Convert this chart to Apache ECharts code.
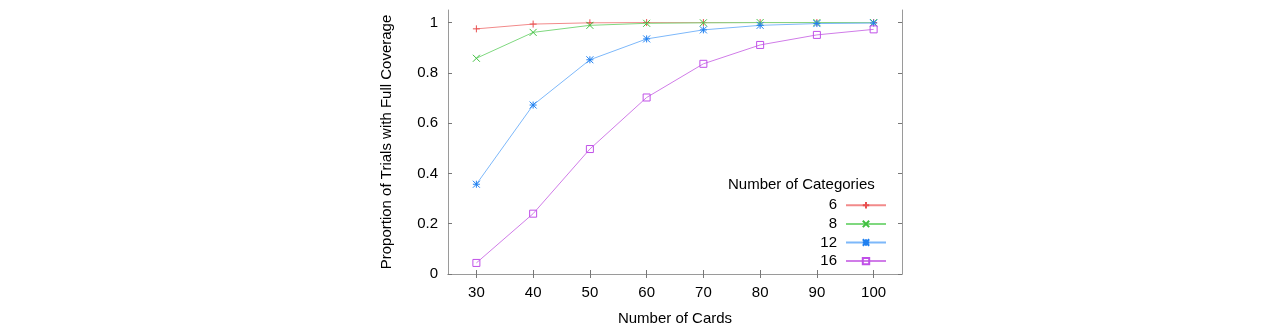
<!DOCTYPE html>
<html>
<head>
<meta charset="utf-8">
<script src="https://cdn.jsdelivr.net/npm/echarts@6/dist/echarts.min.js"></script>
<style>
html,body{margin:0;padding:0;background:#fff;}
#chart{width:1280px;height:332px;}
</style>
</head>
<body>
<div id="chart"></div>
<script>
const cards = [30, 40, 50, 60, 70, 80, 90, 100];
const xTicks = [30, 40, 50, 60, 70, 80, 90, 100];
const yTicks = [0, 0.2, 0.4, 0.6, 0.8, 1];
const seriesNames = ['6', '8', '12', '16'];
const cat6  = [0.975, 0.994, 0.999, 1.0, 1.0, 1.0, 1.0, 1.0];
const cat8  = [0.858, 0.961, 0.989, 0.997, 0.999, 1.0, 1.0, 1.0];
const cat12 = [0.357, 0.672, 0.852, 0.935, 0.971, 0.989, 0.996, 0.998];
const cat16 = [0.044, 0.240, 0.497, 0.702, 0.836, 0.911, 0.951, 0.973];
const values = [cat6, cat8, cat12, cat16];

const lineColors = ['#f28a8a', '#7fd87f', '#7db8fa', '#d07ce8'];
const markColors = ['#e85050', '#40c040', '#2080f0', '#c050e8'];
const symbols = [
  'path://M5,0L5,10M0,5L10,5',
  'path://M0,0L10,10M10,0L0,10',
  'path://M0,0L10,10M10,0L0,10M5,0L5,10M0,5L10,5',
  'path://M0,0L10,0L10,10L0,10Z'
];
const symSizes = [7, 7, 7, 7];

const chart = echarts.init(document.getElementById('chart'));
const font = 'Liberation Sans, Arial, sans-serif';
const axisLine = {show: true, lineStyle: {color: '#9a9a9a', width: 1}};
const tick = {show: true, inside: true, length: 4, lineStyle: {color: '#777'}};

const series = seriesNames.map((n, i) => ({
  name: n,
  type: 'line',
  data: cards.map((c, j) => [c, values[i][j]]),
  symbol: symbols[i],
  symbolSize: symSizes[i],
  showSymbol: true,
  lineStyle: {color: lineColors[i], width: 1},
  itemStyle: {color: 'none', borderColor: markColors[i], borderWidth: 1},
  emphasis: {disabled: true},
  animation: false,
  z: 2 + i
}));

chart.setOption({
  animation: false,
  textStyle: {fontFamily: font},
  grid: {left: 448, right: 378, top: 10, bottom: 58},
  xAxis: [{
    type: 'value', min: 25, max: 105,
    name: 'Number of Cards', nameLocation: 'middle', nameGap: 37,
    nameTextStyle: {fontSize: 15, color: '#000', fontFamily: font},
    axisLine: axisLine,
    axisTick: Object.assign({customValues: xTicks}, tick),
    axisLabel: {customValues: xTicks, fontSize: 15, color: '#000', margin: 11, fontFamily: font},
    splitLine: {show: false}
  }, {
    type: 'value', min: 25, max: 105, position: 'top',
    axisLine: axisLine,
    axisTick: Object.assign({customValues: xTicks}, tick),
    axisLabel: {show: false},
    splitLine: {show: false}
  }],
  yAxis: [{
    type: 'value', min: 0, max: 1.05,
    name: 'Proportion of Trials with Full Coverage', nameLocation: 'middle', nameGap: 54,
    nameTextStyle: {fontSize: 15, color: '#000', fontFamily: font},
    axisLine: axisLine,
    axisTick: Object.assign({customValues: yTicks}, tick),
    axisLabel: {customValues: yTicks, fontSize: 15, color: '#000', margin: 10, fontFamily: font,
      formatter: v => String(+v.toFixed(2))},
    splitLine: {show: false}
  }, {
    type: 'value', min: 0, max: 1.05, position: 'right',
    axisLine: axisLine,
    axisTick: Object.assign({customValues: yTicks}, tick),
    axisLabel: {show: false},
    splitLine: {show: false}
  }],
  legend: {
    orient: 'vertical', align: 'right',
    right: 388, top: 191,
    itemWidth: 40, itemHeight: 8, itemGap: 0,
    textStyle: {fontSize: 15, lineHeight: 18.6, color: '#000', fontFamily: font, padding: [0, 4, 0, 0]},
    data: seriesNames,
    selectedMode: false
  },
  graphic: [{
    type: 'text', left: 728, top: 177,
    style: {text: 'Number of Categories', fontSize: 15, fill: '#000', fontFamily: font}
  }],
  series: series
});
</script>
</body>
</html>
